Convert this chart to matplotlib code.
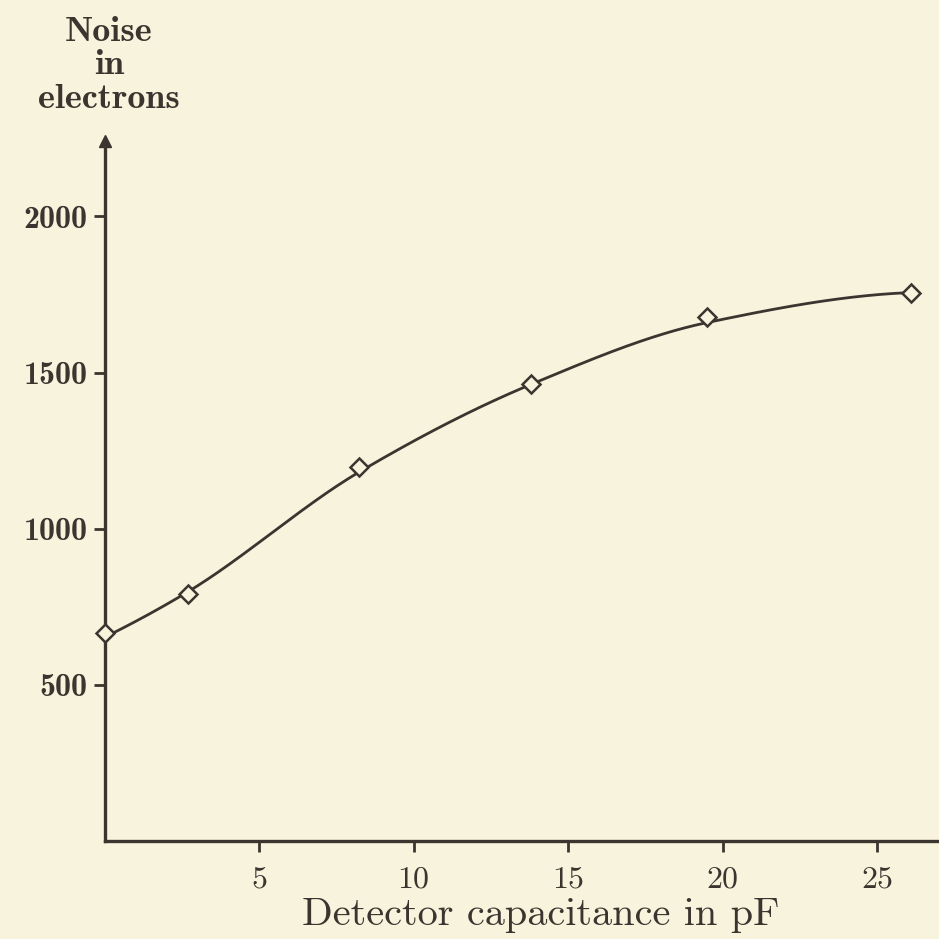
import numpy as np
import matplotlib
matplotlib.use("Agg")
import matplotlib.pyplot as plt

# Data
capacitance_pf = [0.0, 2.7, 8.25, 13.8, 19.5, 26.1]
noise_electrons = [667, 792, 1196, 1462, 1679, 1756]
# hand-drawn smooth curve, read at the same capacitances
curve_noise = [652, 798, 1182, 1462, 1660, 1756]
x_ticks = [5, 10, 15, 20, 25]
y_ticks = [500, 1000, 1500, 2000]

BG = "#f8f3dd"
INK = "#3b3530"


def pchip(x, y, xs):
    x = np.asarray(x, float)
    y = np.asarray(y, float)
    h = np.diff(x)
    d = np.diff(y) / h
    n = len(x)
    m = np.zeros(n)
    for k in range(1, n - 1):
        if d[k - 1] * d[k] > 0:
            w1 = 2 * h[k] + h[k - 1]
            w2 = h[k] + 2 * h[k - 1]
            m[k] = (w1 + w2) / (w1 / d[k - 1] + w2 / d[k])
    m[0] = ((2 * h[0] + h[1]) * d[0] - h[0] * d[1]) / (h[0] + h[1])
    m[-1] = ((2 * h[-1] + h[-2]) * d[-1] - h[-1] * d[-2]) / (h[-1] + h[-2])
    idx = np.clip(np.searchsorted(x, xs) - 1, 0, n - 2)
    t = (xs - x[idx]) / h[idx]
    h00 = 2 * t**3 - 3 * t**2 + 1
    h10 = t**3 - 2 * t**2 + t
    h01 = -2 * t**3 + 3 * t**2
    h11 = t**3 - t**2
    return (h00 * y[idx] + h10 * h[idx] * m[idx] + h01 * y[idx + 1]
            + h11 * h[idx] * m[idx + 1])


fig = plt.figure(figsize=(9.39, 9.39), dpi=100, facecolor=BG)
ax = fig.add_axes([0.1113, 0.1044, 0.8887, 0.745])
ax.set_facecolor(BG)
ax.set_xlim(0.0, 27.0)
ax.set_ylim(0, 2240)

xs = np.linspace(capacitance_pf[0], capacitance_pf[-1], 400)
ax.plot(xs, pchip(capacitance_pf, curve_noise, xs), color=INK,
        lw=2.0, zorder=3)
ax.plot(capacitance_pf, noise_electrons, ls="none", marker="D", ms=9,
        mfc=BG, mec=INK, mew=1.8, zorder=4, clip_on=False)

for s in ["top", "right"]:
    ax.spines[s].set_visible(False)
for s in ["left", "bottom"]:
    ax.spines[s].set_color(INK)
    ax.spines[s].set_linewidth(2.4)

# arrow head on y axis
ax.plot([0.0], [2240], marker="^", ms=8, color=INK, clip_on=False, zorder=5)

ax.set_xticks(x_ticks)
ax.set_yticks(y_ticks)
ax.tick_params(axis="both", direction="out", length=8, width=2, color=INK)
ax.tick_params(axis="x", pad=10)
ax.tick_params(axis="y", pad=4)
for lab in ax.get_xticklabels():
    lab.set_fontfamily("cmr10")
    lab.set_fontsize(23)
    lab.set_color(INK)
for lab in ax.get_yticklabels():
    lab.set_fontfamily("cmb10")
    lab.set_fontsize(23)
    lab.set_color(INK)

ax.set_xlabel("Detector capacitance in pF", fontfamily="cmr10", fontsize=29,
              color=INK)
ax.xaxis.set_label_coords(0.523, -0.08)
fig.text(109 / 939, 1 - 66 / 939, "Noise\nin\nelectrons", ha="center",
         va="center", fontfamily="cmb10", fontsize=26, color=INK,
         linespacing=1.12)

fig.savefig("out.png", dpi=100, facecolor=BG)
